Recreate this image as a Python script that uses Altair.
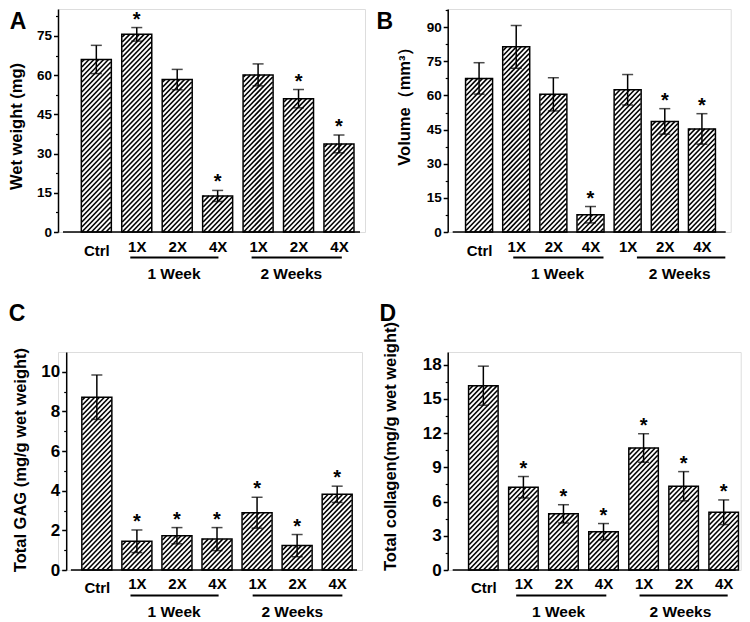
import altair as alt
import pandas as pd
import math

FONT = "Liberation Sans"

# ---------------- data ----------------
labels = ["Ctrl", "1X", "2X", "4X", "1X", "2X", "4X"]
positions = [1, 2, 3, 4, 5, 6, 7]
group_names = ["1 Week", "2 Weeks"]

wet_mean = [66.0, 75.6, 58.3, 13.8, 60.1, 51.0, 33.7]
wet_err = [5.4, 2.6, 3.9, 2.1, 4.2, 3.5, 3.4]
wet_sig = [0, 1, 0, 1, 0, 1, 1]

vol_mean = [67.5, 81.4, 60.5, 7.6, 62.5, 48.6, 45.3]
vol_err = [6.9, 9.4, 7.3, 3.6, 6.7, 5.6, 6.7]
vol_sig = [0, 0, 0, 1, 0, 1, 1]

gag_mean = [8.72, 1.45, 1.73, 1.56, 2.89, 1.23, 3.82]
gag_err = [1.12, 0.57, 0.41, 0.58, 0.78, 0.56, 0.41]
gag_sig = [0, 1, 1, 1, 1, 1, 1]

col_mean = [16.15, 7.25, 4.92, 3.36, 10.69, 7.34, 5.06]
col_err = [1.71, 0.94, 0.80, 0.71, 1.25, 1.28, 1.08]
col_sig = [0, 1, 1, 1, 1, 1, 1]


def hatch_segments(mean, lo, hi, width, ymax, height, bar_px, spacing=5.0):
    ppx = width / (hi - lo)
    ppy = height / ymax
    hw = bar_px / 2.0
    rows = []
    for p, v in zip(positions, mean):
        H = v * ppy
        k0 = math.ceil(-hw / spacing)
        k1 = math.floor((H + hw) / spacing)
        for k in range(k0, k1 + 1):
            c = k * spacing
            u0 = max(-hw, -c)
            u1 = min(hw, H - c)
            if u1 - u0 > 0.4:
                rows.append({"x": p + u0 / ppx, "y": (u0 + c) / ppy,
                             "x2": p + u1 / ppx, "y2": (u1 + c) / ppy})
    return pd.DataFrame(rows)


def panel(letter, mean, err, sig, ytitle, ymax, yticks, lo, hi, axis_x,
          width, height, bar_px, tick_font, title_x, title_y, letter_xy,
          spans, centers, axis_offset, lab_pad, lab_pad_ctrl):
    df = pd.DataFrame({
        "pos": positions, "label": labels, "mean": mean,
        "low": [m - e for m, e in zip(mean, err)],
        "high": [m + e for m, e in zip(mean, err)],
        "sig": sig,
    })
    xs = alt.Scale(domain=[lo, hi], nice=False, zero=False)
    ys = alt.Scale(domain=[0, ymax], nice=False)
    lab_js = "[''," + ",".join("'%s'" % l for l in labels) + "][datum.value]"
    step = yticks[1] - yticks[0]
    minor = [t + step / 2 for t in yticks if t + step / 2 < ymax]

    xaxis = alt.Axis(values=positions, labelExpr=lab_js, domain=False, ticks=False,
                     tickSize=0, grid=False, title=None, labelFont=FONT, labelFontSize=15,
                     labelFontWeight="bold", labelColor="black", labelFlush=False,
                     labelOverlap=False,
                     labelPadding={"condition": {"test": "datum.value == 1", "value": lab_pad_ctrl},
                                   "value": lab_pad})
    yaxis = alt.Axis(values=yticks, title=ytitle, grid=False, domainColor="black",
                     domainWidth=1.5, tickColor="black", tickWidth=1.5, tickSize=4.5,
                     labelFont=FONT, labelFontSize=tick_font, labelFontWeight="bold",
                     labelColor="black", labelPadding=2, titleFont=FONT, titleFontSize=16.5,
                     titleFontWeight="bold", titleColor="black", titleX=title_x,
                     titleY=title_y, titleBaseline="middle", titleAlign="center",
                     titleAngle=270, offset=axis_offset)
    minor_axis = alt.Axis(orient="left", values=minor, title=None, grid=False,
                          domain=False, labels=False, tickColor="black", tickWidth=1.2,
                          tickSize=2.5, offset=axis_offset)

    hatch = alt.Chart(hatch_segments(mean, lo, hi, width, ymax, height, bar_px)).mark_rule(
        color="black", strokeWidth=1.6).encode(
        x=alt.X("x:Q", scale=xs, axis=None), x2="x2:Q",
        y=alt.Y("y:Q", scale=ys, axis=None), y2="y2:Q")

    outline = alt.Chart(df).mark_bar(size=bar_px, fillOpacity=0, stroke="black",
                                     strokeWidth=1.5).encode(
        x=alt.X("pos:Q", scale=xs, axis=xaxis),
        y=alt.Y("mean:Q", scale=ys, axis=yaxis))

    base_line = alt.Chart(pd.DataFrame({"a": [axis_x], "b": [hi], "z": [0]})).mark_rule(
        color="black", strokeWidth=1.5).encode(
        x=alt.X("a:Q", scale=xs, axis=None), x2="b:Q",
        y=alt.Y("z:Q", scale=ys, axis=None))

    err_rule = alt.Chart(df).mark_rule(color="black", strokeWidth=1.5).encode(
        x=alt.X("pos:Q", scale=xs, axis=None),
        y=alt.Y("low:Q", scale=ys, axis=minor_axis), y2="high:Q")
    cap_hi = alt.Chart(df).mark_tick(color="black", orient="horizontal", size=11,
                                     thickness=1.5).encode(
        x=alt.X("pos:Q", scale=xs, axis=None),
        y=alt.Y("high:Q", scale=ys, axis=None))
    cap_lo = alt.Chart(df).mark_tick(color="black", orient="horizontal", size=11,
                                     thickness=1.5).encode(
        x=alt.X("pos:Q", scale=xs, axis=None),
        y=alt.Y("low:Q", scale=ys, axis=None))

    stars = alt.Chart(df).transform_filter("datum.sig == 1").mark_text(
        text="*", font=FONT, fontSize=20, fontWeight="bold", color="black",
        baseline="alphabetic", dy=-2).encode(
        x=alt.X("pos:Q", scale=xs, axis=None),
        y=alt.Y("high:Q", scale=ys, axis=None))

    gdf = pd.DataFrame({"name": group_names,
                        "s": [spans[0][0], spans[1][0]],
                        "e": [spans[0][1], spans[1][1]],
                        "c": centers})
    glines = alt.Chart(gdf).mark_rule(color="black", strokeWidth=2).encode(
        x=alt.X("s:Q", scale=xs, axis=None), x2="e:Q",
        y=alt.value(height + 25.6))
    gtext = alt.Chart(gdf).mark_text(font=FONT, fontSize=15.5, fontWeight="bold",
                                     color="black", baseline="middle").encode(
        x=alt.X("c:Q", scale=xs, axis=None),
        y=alt.value(height + 41.5), text="name:N")

    letter_chart = alt.Chart(pd.DataFrame({"t": [letter]})).mark_text(
        font=FONT, fontSize=23, fontWeight="bold", color="black",
        baseline="middle", align="center").encode(
        x=alt.value(letter_xy[0]), y=alt.value(letter_xy[1]), text="t:N")

    return alt.layer(outline, hatch, base_line, err_rule, cap_hi, cap_lo,
                     stars, glines, gtext, letter_chart).resolve_axis(
        x="independent", y="independent").properties(width=width, height=height)


A = panel("A", wet_mean, wet_err, wet_sig, "Wet weight (mg)", 85.3,
          [0, 15, 30, 45, 60, 75], 0.176, 7.52, 0.176, 307, 223, 30, 13.5,
          -41.4, 117, (-40, 12.7), [(1.84, 4.02), (4.84, 7.07)], [2.92, 5.82],
          0, 7, 11)
B = panel("B", vol_mean, vol_err, vol_sig, "Volume（mm³）", 98.0,
          [0, 15, 30, 45, 60, 75, 90], 0.29, 7.64, 0.29, 283, 223, 27, 13.5,
          -43, 92.6, (-63, 12.7), [(1.92, 4.35), (5.25, 7.63)], [3.11, 6.4],
          0, 7, 11)
C = panel("C", gag_mean, gag_err, gag_sig, "Total GAG (mg/g wet weight)", 11.0,
          [0, 2, 4, 6, 8, 10], 0.155, 7.495, 0.352, 304, 218, 30, 17,
          -45.9, 107.6, (-41, -38.2), [(1.84, 4.04), (4.89, 7.13)], [2.93, 5.88],
          -8.2, 6, 10)
D = panel("D", col_mean, col_err, col_sig, "Total collagen(mg/g wet weight)", 19.1,
          [0, 3, 6, 9, 12, 15, 18], 0.235, 7.30, 0.235, 293, 218, 29.5, 17,
          -57.4, 94, (-60, -38.2), [(1.82, 4.07), (4.9, 7.1)], [2.88, 5.92],
          0, 6, 10)

chart = alt.concat(A, B, C, D, columns=2, bounds="flush",
                   spacing={"row": 120, "column": 82.7}).properties(
    padding=0).configure_view(strokeWidth=0).configure(background="white")

chart.save("out.html", embed_options={"renderer": "svg", "actions": False})
